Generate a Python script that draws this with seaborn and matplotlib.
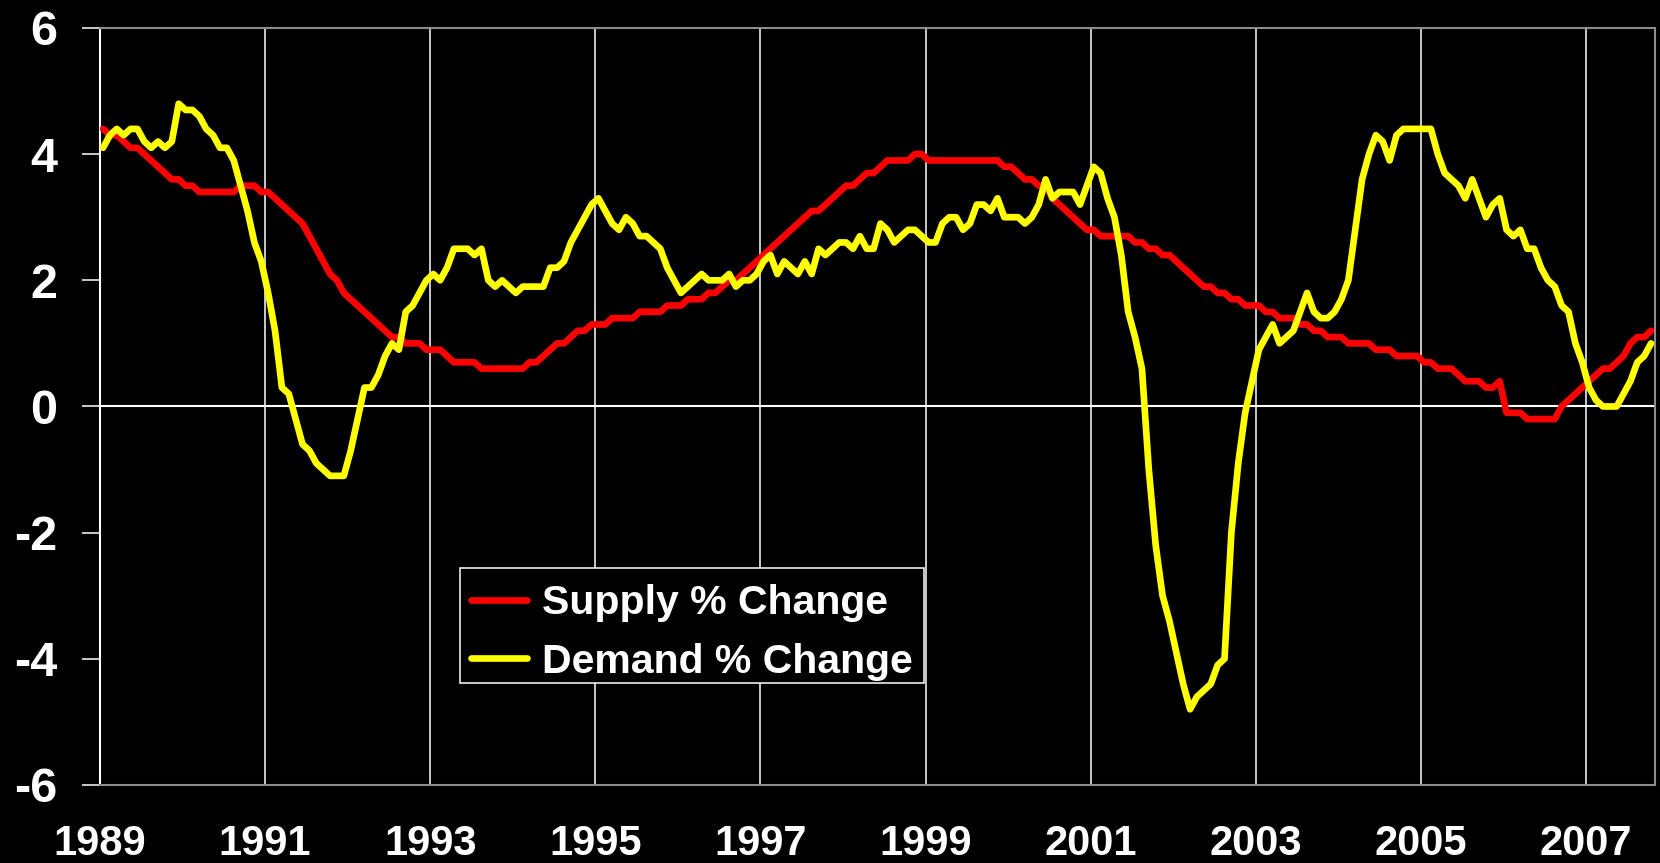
import numpy as np
import pandas as pd
import matplotlib
matplotlib.use("Agg")
import matplotlib.pyplot as plt
from matplotlib.lines import Line2D
from matplotlib.patches import Rectangle
import seaborn as sns

# monthly 12-month % change, Jan 1989 .. Oct 2007
supply_pct = [
    4.4, 4.3, 4.3, 4.2, 4.1, 4.1, 4.0, 3.9, 3.8, 3.7, 3.6, 3.6,  # 1989
    3.5, 3.5, 3.4, 3.4, 3.4, 3.4, 3.4, 3.4, 3.5, 3.5, 3.5, 3.4,  # 1990
    3.4, 3.3, 3.2, 3.1, 3.0, 2.9, 2.7, 2.5, 2.3, 2.1, 2.0, 1.8,  # 1991
    1.7, 1.6, 1.5, 1.4, 1.3, 1.2, 1.1, 1.1, 1.0, 1.0, 1.0, 0.9,  # 1992
    0.9, 0.9, 0.8, 0.7, 0.7, 0.7, 0.7, 0.6, 0.6, 0.6, 0.6, 0.6,  # 1993
    0.6, 0.6, 0.7, 0.7, 0.8, 0.9, 1.0, 1.0, 1.1, 1.2, 1.2, 1.3,  # 1994
    1.3, 1.3, 1.4, 1.4, 1.4, 1.4, 1.5, 1.5, 1.5, 1.5, 1.6, 1.6,  # 1995
    1.6, 1.7, 1.7, 1.7, 1.8, 1.8, 1.9, 2.0, 2.0, 2.1, 2.2, 2.3,  # 1996
    2.4, 2.5, 2.6, 2.7, 2.8, 2.9, 3.0, 3.1, 3.1, 3.2, 3.3, 3.4,  # 1997
    3.5, 3.5, 3.6, 3.7, 3.7, 3.8, 3.9, 3.9, 3.9, 3.9, 4.0, 4.0,  # 1998
    3.9, 3.9, 3.9, 3.9, 3.9, 3.9, 3.9, 3.9, 3.9, 3.9, 3.9, 3.8,  # 1999
    3.8, 3.7, 3.6, 3.6, 3.5, 3.5, 3.3, 3.2, 3.1, 3.0, 2.9, 2.8,  # 2000
    2.8, 2.7, 2.7, 2.7, 2.7, 2.7, 2.6, 2.6, 2.5, 2.5, 2.4, 2.4,  # 2001
    2.3, 2.2, 2.1, 2.0, 1.9, 1.9, 1.8, 1.8, 1.7, 1.7, 1.6, 1.6,  # 2002
    1.6, 1.5, 1.5, 1.4, 1.4, 1.4, 1.3, 1.3, 1.2, 1.2, 1.1, 1.1,  # 2003
    1.1, 1.0, 1.0, 1.0, 1.0, 0.9, 0.9, 0.9, 0.8, 0.8, 0.8, 0.8,  # 2004
    0.7, 0.7, 0.6, 0.6, 0.6, 0.5, 0.4, 0.4, 0.4, 0.3, 0.3, 0.4,  # 2005
    -0.1, -0.1, -0.1, -0.2, -0.2, -0.2, -0.2, -0.2, 0.0, 0.1, 0.2, 0.3,  # 2006
    0.4, 0.5, 0.6, 0.6, 0.7, 0.8, 1.0, 1.1, 1.1, 1.2,  # 2007
]
demand_pct = [
    4.1, 4.3, 4.4, 4.3, 4.4, 4.4, 4.2, 4.1, 4.2, 4.1, 4.2, 4.8,  # 1989
    4.7, 4.7, 4.6, 4.4, 4.3, 4.1, 4.1, 3.9, 3.5, 3.1, 2.6, 2.3,  # 1990
    1.8, 1.2, 0.3, 0.2, -0.2, -0.6, -0.7, -0.9, -1.0, -1.1, -1.1, -1.1,  # 1991
    -0.7, -0.2, 0.3, 0.3, 0.5, 0.8, 1.0, 0.9, 1.5, 1.6, 1.8, 2.0,  # 1992
    2.1, 2.0, 2.2, 2.5, 2.5, 2.5, 2.4, 2.5, 2.0, 1.9, 2.0, 1.9,  # 1993
    1.8, 1.9, 1.9, 1.9, 1.9, 2.2, 2.2, 2.3, 2.6, 2.8, 3.0, 3.2,  # 1994
    3.3, 3.1, 2.9, 2.8, 3.0, 2.9, 2.7, 2.7, 2.6, 2.5, 2.2, 2.0,  # 1995
    1.8, 1.9, 2.0, 2.1, 2.0, 2.0, 2.0, 2.1, 1.9, 2.0, 2.0, 2.1,  # 1996
    2.3, 2.4, 2.1, 2.3, 2.2, 2.1, 2.3, 2.1, 2.5, 2.4, 2.5, 2.6,  # 1997
    2.6, 2.5, 2.7, 2.5, 2.5, 2.9, 2.8, 2.6, 2.7, 2.8, 2.8, 2.7,  # 1998
    2.6, 2.6, 2.9, 3.0, 3.0, 2.8, 2.9, 3.2, 3.2, 3.1, 3.3, 3.0,  # 1999
    3.0, 3.0, 2.9, 3.0, 3.2, 3.6, 3.3, 3.4, 3.4, 3.4, 3.2, 3.5,  # 2000
    3.8, 3.7, 3.3, 3.0, 2.4, 1.5, 1.1, 0.6, -1.0, -2.2, -3.0, -3.4,  # 2001
    -3.9, -4.4, -4.8, -4.6, -4.5, -4.4, -4.1, -4.0, -2.0, -0.9, -0.1, 0.4,  # 2002
    0.9, 1.1, 1.3, 1.0, 1.1, 1.2, 1.5, 1.8, 1.5, 1.4, 1.4, 1.5,  # 2003
    1.7, 2.0, 2.8, 3.6, 4.0, 4.3, 4.2, 3.9, 4.3, 4.4, 4.4, 4.4,  # 2004
    4.4, 4.4, 4.0, 3.7, 3.6, 3.5, 3.3, 3.6, 3.3, 3.0, 3.2, 3.3,  # 2005
    2.8, 2.7, 2.8, 2.5, 2.5, 2.2, 2.0, 1.9, 1.6, 1.5, 1.0, 0.7,  # 2006
    0.3, 0.1, 0.0, 0.0, 0.0, 0.2, 0.4, 0.7, 0.8, 1.0,  # 2007
]
series_names = ["Supply % Change", "Demand % Change"]
series_colors = ["#FF0000", "#FFFF00"]
start_year = 1989
year_ticks = list(range(1989, 2008, 2))
y_ticks = [-6, -4, -2, 0, 2, 4, 6]

n = len(supply_pct)
t = start_year + (np.arange(n) + 0.45) / 12
df = pd.DataFrame({
    "t": np.concatenate([t, t]),
    "value": supply_pct + demand_pct,
    "series": [series_names[0]] * n + [series_names[1]] * n,
})

sns.set_theme(style="dark", rc={
    "figure.facecolor": "black",
    "axes.facecolor": "black",
    "axes.unicode_minus": False,
})
plt.rcParams["font.family"] = ["Liberation Sans", "DejaVu Sans"]
plt.rcParams["font.weight"] = "bold"

fs = 29.5
lw = 4.8
fig = plt.figure(figsize=(16.6, 8.63), dpi=100)
ax = fig.add_axes([0.0602, 0.0904, 0.9367, 0.8772])

sns.lineplot(data=df, x="t", y="value", hue="series", hue_order=series_names,
             palette=dict(zip(series_names, series_colors)), linewidth=lw,
             ax=ax, legend=False, zorder=3)

ax.set_xlim(start_year, start_year + n / 12)
ax.set_ylim(-6, 6)
ax.set_xticks(year_ticks)
ax.set_xticklabels([str(y) for y in year_ticks])
ax.set_yticks(y_ticks)
ax.set_yticklabels([str(v) for v in y_ticks])
ax.set_xlabel("")
ax.set_ylabel("")

ax.tick_params(axis="x", length=0, pad=28, labelcolor="white", labelsize=30)
ax.tick_params(axis="y", left=True, length=13, width=1.1, direction="out",
               color="white", pad=18, labelcolor="white", labelsize=35)
for lab in ax.get_xticklabels() + ax.get_yticklabels():
    lab.set_fontweight("bold")

ax.grid(axis="x", color="white", linewidth=1.1)
ax.grid(axis="y", visible=False)
ax.axhline(0, color="white", linewidth=1.5, zorder=2)

ax.spines["left"].set_color("white")
for side in ["top", "right", "bottom"]:
    ax.spines[side].set_color("#8c8c8c")
for side in ax.spines:
    ax.spines[side].set_visible(True)
    ax.spines[side].set_linewidth(1.5)

# legend frame drawn separately so the rows can sit where the original has them
ax.add_patch(Rectangle((0.2318, 0.1347), 0.2981, 0.1513, transform=ax.transAxes,
                       facecolor="black", edgecolor="white", linewidth=1.1,
                       zorder=4))
handles = [Line2D([0], [0], color=c, linewidth=lw) for c in series_colors]
leg = ax.legend(handles, series_names, loc="lower left",
                bbox_to_anchor=(0.2318, 0.1235), borderaxespad=0,
                frameon=False, fontsize=fs,
                handlelength=1.37, handletextpad=0.36, borderpad=0.26,
                labelspacing=0.5)
for txt in leg.get_texts():
    txt.set_color("white")
    txt.set_fontweight("bold")
leg.set_zorder(5)

fig.savefig("out.png", dpi=100, facecolor="black")
